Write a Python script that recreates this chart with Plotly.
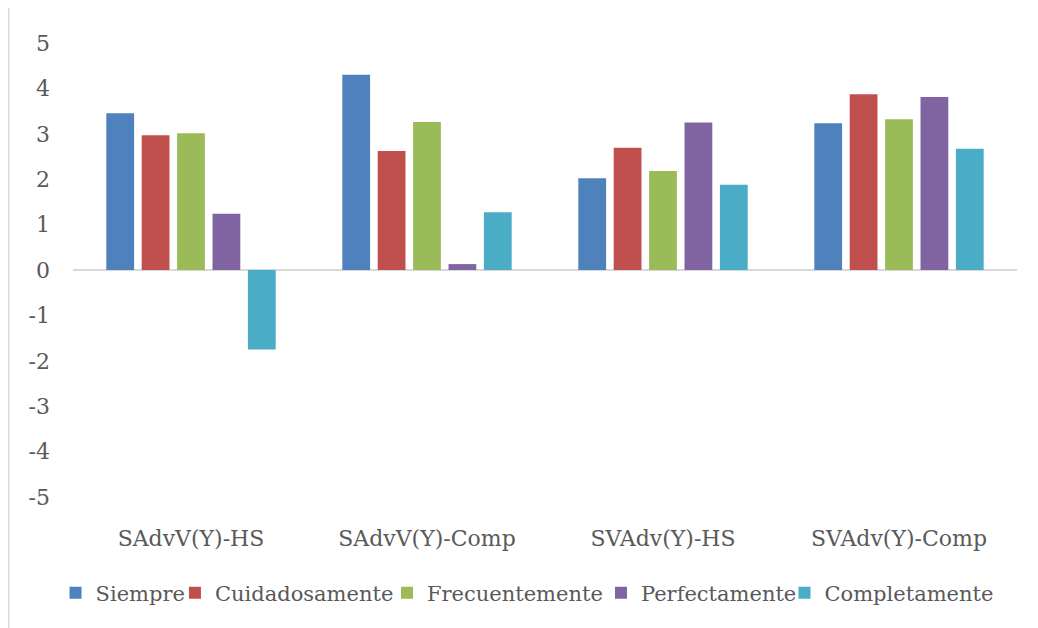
import plotly.graph_objects as go

categories = ["SAdvV(Y)-HS", "SAdvV(Y)-Comp", "SVAdv(Y)-HS", "SVAdv(Y)-Comp"]
series_names = ["Siempre", "Cuidadosamente", "Frecuentemente", "Perfectamente", "Completamente"]
siempre = [3.45, 4.30, 2.02, 3.23]
cuidadosamente = [2.97, 2.62, 2.69, 3.87]
frecuentemente = [3.01, 3.26, 2.18, 3.32]
perfectamente = [1.24, 0.13, 3.25, 3.81]
completamente = [-1.75, 1.27, 1.88, 2.67]
y_ticks = [-5, -4, -3, -2, -1, 0, 1, 2, 3, 4, 5]
y_tick_labels = ["-5", "-4", "-3", "-2", "-1", "0", "1", "2", "3", "4", "5"]

values = [siempre, cuidadosamente, frecuentemente, perfectamente, completamente]
colors = ["#4F81BD", "#C0504D", "#9BBB59", "#8064A2", "#4BACC6"]
# one legend box per series, placed along the bottom row
legend_ids = ["legend", "legend2", "legend3", "legend4", "legend5"]
legend_x = [-0.0185, 0.108, 0.3326, 0.5593, 0.7537]

FONT = "DejaVu Serif"
TXT = "#595959"

fig = go.Figure()
for name, vals, col, lid in zip(series_names, values, colors, legend_ids):
    fig.add_trace(go.Bar(x=categories, y=vals, name=name, legend=lid,
                         marker=dict(color=col, line=dict(width=0))))

legend_common = dict(orientation="h", xanchor="left", y=-0.2115, yanchor="middle",
                     font=dict(family=FONT, size=21, color=TXT), itemwidth=30,
                     bgcolor="rgba(0,0,0,0)")
layout_legends = {lid: dict(legend_common, x=lx) for lid, lx in zip(legend_ids, legend_x)}

fig.update_layout(
    width=1030, height=620,
    paper_bgcolor="white", plot_bgcolor="white",
    barmode="group", bargap=0.25, bargroupgap=0.215,
    margin=dict(l=65, r=21, t=35, b=131, autoexpand=False),
    font=dict(family=FONT, size=22, color=TXT),
    showlegend=True,
    **layout_legends,
)
fig.update_yaxes(range=[-5, 5], tickvals=y_ticks, ticktext=y_tick_labels, showgrid=False, zeroline=True,
                 zerolinecolor="#D9D9D9", zerolinewidth=1.5, showline=False, automargin=False,
                 ticks="", ticklabelstandoff=22, tickfont=dict(family=FONT, size=22, color=TXT))
fig.update_xaxes(showgrid=False, showline=False, ticks="", ticklabelstandoff=26, automargin=False,
                 tickfont=dict(family=FONT, size=22, color=TXT))
fig.add_shape(type="line", xref="paper", yref="paper", x0=-0.068, x1=-0.068, y0=-0.3, y1=1.1,
              line=dict(color="#D9D9D9", width=1.5))

fig.write_html("out.html")
